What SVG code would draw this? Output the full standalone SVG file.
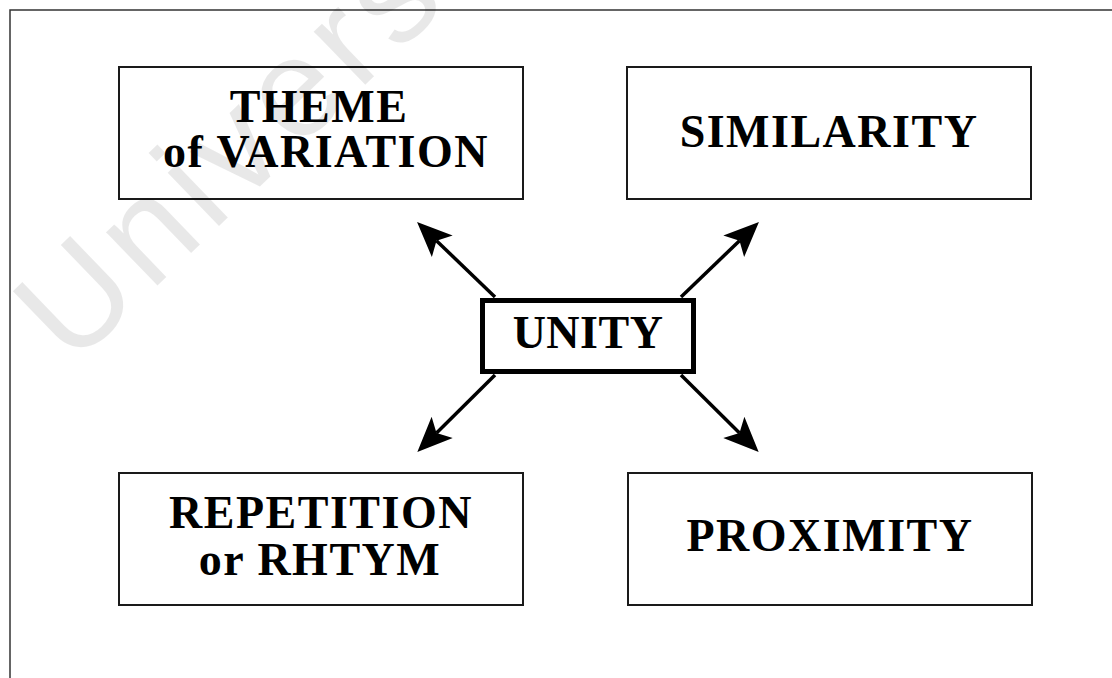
<svg xmlns="http://www.w3.org/2000/svg" width="1112" height="678" viewBox="0 0 1112 678">
  <style>
    .box { fill: #ffffff; stroke: #1a1a1a; stroke-width: 2; }
    .core { fill: #ffffff; stroke: #000000; stroke-width: 5; }
    .label { font-family: "Liberation Serif", "Times New Roman", serif; font-weight: bold; font-size: 46px; letter-spacing: 1.5px; fill: #000000; text-anchor: middle; }
    .link { stroke: #000000; stroke-width: 3.5; fill: none; marker-end: url(#head); }
    .frame { stroke: #333333; stroke-width: 1.5; fill: none; }
    .mark { font-family: "Liberation Sans", Arial, sans-serif; font-size: 140px; letter-spacing: 8px; fill: #000000; fill-opacity: 0.09; }
  </style>
  <defs>
    <!-- barbed arrowhead; the line stops at the notch (x=0), tip sits 27 units ahead -->
    <marker id="head" markerUnits="userSpaceOnUse" viewBox="-9 -16 37 32" refX="0" refY="0" markerWidth="37" markerHeight="32" orient="auto">
      <path d="M27,0 L-8,-15 L0,0 L-8,15 Z" fill="#000000"/>
    </marker>
  </defs>

  <rect width="1112" height="678" fill="#ffffff"/>

  <!-- page frame -->
  <path class="frame" d="M10,678 V10 H1112"/>

  <g id="connectors">
    <line class="link" x1="495" y1="297" x2="436.5" y2="240.7"/>
    <line class="link" x1="681" y1="297" x2="739.5" y2="240.7"/>
    <line class="link" x1="495" y1="375" x2="436.5" y2="433"/>
    <line class="link" x1="681" y1="375" x2="739.5" y2="433"/>
  </g>

  <g id="theme">
    <rect class="box" x="119" y="67" width="404" height="132"/>
    <text class="label" x="319" y="122">THEME</text>
    <text class="label" x="326" y="167">of VARIATION</text>
  </g>

  <g id="similarity">
    <rect class="box" x="627" y="67" width="404" height="132"/>
    <text class="label" x="829" y="147">SIMILARITY</text>
  </g>

  <g id="unity">
    <rect class="core" x="482.5" y="300.5" width="211" height="71"/>
    <text class="label" x="588" y="348" style="letter-spacing:0.5px">UNITY</text>
  </g>

  <g id="repetition">
    <rect class="box" x="119" y="473" width="404" height="132"/>
    <text class="label" x="321" y="528">REPETITION</text>
    <text class="label" x="320" y="575">or RHTYM</text>
  </g>

  <g id="proximity">
    <rect class="box" x="628" y="473" width="404" height="132"/>
    <text class="label" x="830" y="551">PROXIMITY</text>
  </g>

  <!-- faint watermark laid over the page -->
  <text class="mark" transform="translate(72,368) rotate(-44)">Univers</text>
</svg>
